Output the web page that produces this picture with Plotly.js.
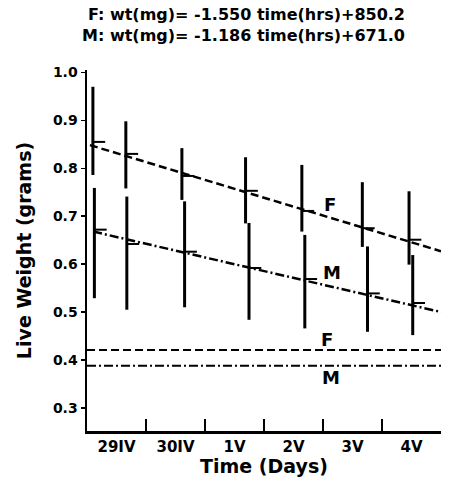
<!DOCTYPE html>
<html>
<head>
<meta charset="utf-8">
<script src="https://cdn.plot.ly/plotly-3.0.1.min.js"></script>
<style>html,body{margin:0;padding:0;background:#fff}#chart{width:449px;height:483px}</style>
</head>
<body>
<div id="chart"></div>
<script>
// ---- data ----
const dayLabels = ['29IV', '30IV', '1V', '2V', '3V', '4V'];
const dayCentres = [12, 36, 60, 84, 108, 132];        // hours
const dayBounds = [24, 48, 72, 96, 120, 144];          // hours

const femaleHours = [2.4, 15.8, 38.6, 64.5, 87.4, 112.0, 131.0];
const femaleMean  = [0.855, 0.830, 0.784, 0.753, 0.711, 0.675, 0.651];
const femaleHigh  = [0.970, 0.898, 0.842, 0.823, 0.807, 0.771, 0.752];
const femaleLow   = [0.786, 0.758, 0.734, 0.685, 0.668, 0.636, 0.599];

const maleHours = [3.0, 16.2, 39.7, 65.9, 88.6, 114.1, 132.5];
const maleMean  = [0.672, 0.642, 0.626, 0.592, 0.569, 0.539, 0.519];
const maleHigh  = [0.759, 0.741, 0.731, 0.686, 0.661, 0.637, 0.619];
const maleLow   = [0.529, 0.505, 0.510, 0.484, 0.466, 0.459, 0.452];

// regression: wt(mg) = slope * time(hrs) + intercept
const femaleFit = {slope: -1.550, intercept: 850.2};
const maleFit   = {slope: -1.186, intercept: 671.0};
const femaleFitHours = [1.2, 144];
const maleFitHours   = [2.5, 144];

// horizontal reference levels (grams)
const femaleLevel = [0.421, 0.421];
const maleLevel   = [0.388, 0.388];
const levelHours  = [0, 144];

// ---- build ----
const fitY = (fit, hrs) => hrs.map(h => (fit.slope * h + fit.intercept) / 1000);
const diff = (a, b) => a.map((v, i) => v - b[i]);

const FONT = 'DejaVu Sans, Arial, sans-serif';

function pointTrace(name, x, mean, hi, lo) {
  return {
    type: 'scatter', mode: 'markers', name: name, x: x, y: mean,
    marker: {size: 2, color: 'black'},
    error_y: {type: 'data', symmetric: false, array: diff(hi, mean), arrayminus: diff(mean, lo),
              color: 'black', thickness: 3, width: 0},
    error_x: {type: 'constant', symmetric: false, value: 5, valueminus: 0,
              color: 'black', thickness: 2, width: 0},
    showlegend: false
  };
}

const traces = [
  {type: 'scatter', mode: 'lines', x: femaleFitHours, y: fitY(femaleFit, femaleFitHours),
   line: {color: 'black', width: 2.5, dash: '8px,4px'}, showlegend: false, name: 'F fit'},
  {type: 'scatter', mode: 'lines', x: maleFitHours, y: fitY(maleFit, maleFitHours),
   line: {color: 'black', width: 2.5, dash: '9px,3px,2px,3px'}, showlegend: false, name: 'M fit'},
  {type: 'scatter', mode: 'lines', x: levelHours, y: femaleLevel,
   line: {color: 'black', width: 2, dash: '8px,4px'}, showlegend: false, name: 'F level'},
  {type: 'scatter', mode: 'lines', x: levelHours, y: maleLevel,
   line: {color: 'black', width: 2, dash: '9px,3px,2px,3px'}, showlegend: false, name: 'M level'},
  pointTrace('F', femaleHours, femaleMean, femaleHigh, femaleLow),
  pointTrace('M', maleHours, maleMean, maleHigh, maleLow),
  // dummy trace to activate overlay axis carrying the day-boundary ticks
  {type: 'scatter', mode: 'markers', x: [], y: [], xaxis: 'x2', yaxis: 'y', showlegend: false, hoverinfo: 'skip'}
];

const labelFont = {family: FONT, size: 18, color: 'black', weight: 'bold'};

const layout = {
  width: 449, height: 483,
  paper_bgcolor: 'white', plot_bgcolor: 'white',
  margin: {l: 87, r: 8, t: 70, b: 52},
  showlegend: false,
  font: {family: FONT, color: 'black', weight: 'bold'},
  title: {
    text: 'F: wt(mg)= -1.550 time(hrs)+850.2<br>M: wt(mg)= -1.186 time(hrs)+671.0',
    font: {family: FONT, size: 16, color: 'black', weight: 'bold'},
    x: 405 / 449, xref: 'container', xanchor: 'right',
    y: 1 - 20 / 483, yref: 'container', yanchor: 'top'
  },
  xaxis: {
    range: [0, 144], showgrid: false, zeroline: false,
    showline: true, linecolor: 'black', linewidth: 2.5,
    tickvals: dayCentres, ticktext: dayLabels, ticks: '',
    tickfont: {family: FONT, size: 15, color: 'black', weight: 'bold'},
    ticklabelstandoff: 0,
    title: {text: 'Time (Days)', font: {family: FONT, size: 19, color: 'black', weight: 'bold'}, standoff: 0}
  },
  xaxis2: {
    range: [0, 144], overlaying: 'x', anchor: 'y', side: 'bottom',
    showgrid: false, zeroline: false, showline: false,
    tickvals: dayBounds, ticks: 'inside', ticklen: 12, tickwidth: 2, tickcolor: 'black',
    showticklabels: false
  },
  yaxis: {
    range: [0.252, 1.005], showgrid: false, zeroline: false,
    showline: true, linecolor: 'black', linewidth: 2.5,
    tickvals: [0.3, 0.4, 0.5, 0.6, 0.7, 0.8, 0.9, 1.0], tickformat: '.1f',
    ticks: 'outside', ticklen: 4, tickwidth: 1.5, tickcolor: 'black',
    tickfont: {family: FONT, size: 14, color: 'black', weight: 'bold'},
    title: {text: 'Live Weight (grams)', font: {family: FONT, size: 19, color: 'black', weight: 'bold'}, standoff: 16}
  },
  annotations: [
    {x: 98.8, y: 0.724, xref: 'x', yref: 'y', text: 'F', showarrow: false, font: labelFont},
    {x: 99.8, y: 0.582, xref: 'x', yref: 'y', text: 'M', showarrow: false, font: labelFont},
    {x: 97.8, y: 0.442, xref: 'x', yref: 'y', text: 'F', showarrow: false, font: labelFont},
    {x: 99.1, y: 0.363, xref: 'x', yref: 'y', text: 'M', showarrow: false, font: labelFont}
  ]
};

Plotly.newPlot('chart', traces, layout, {displayModeBar: false, staticPlot: true});
</script>
</body>
</html>
